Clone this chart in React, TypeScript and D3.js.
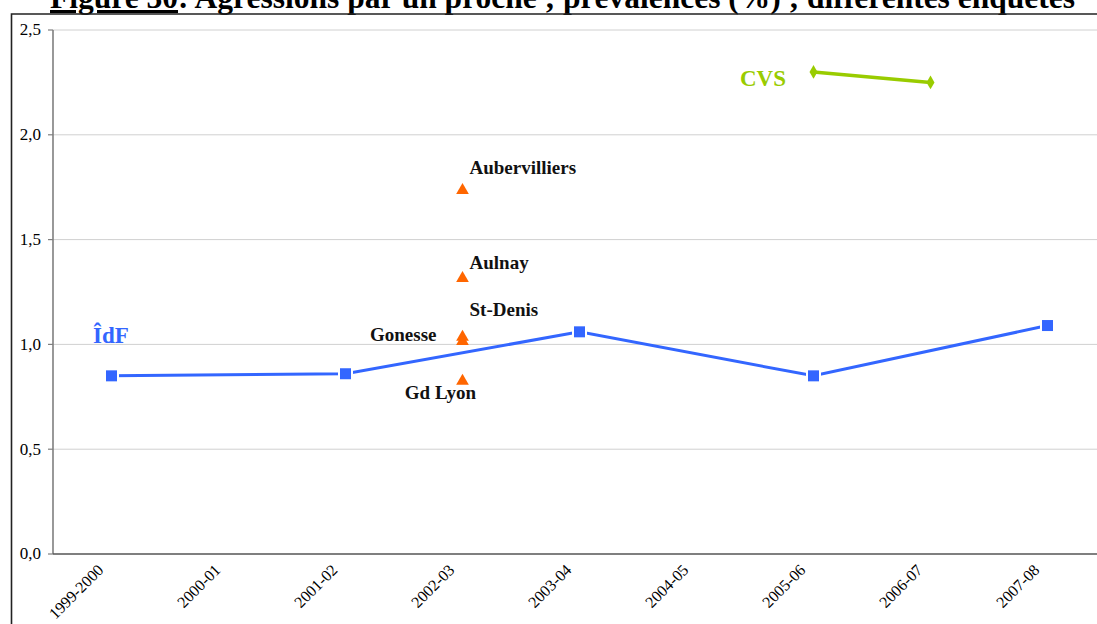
import React from "react";
import * as d3 from "d3";

const categories = ["1999-2000", "2000-01", "2001-02", "2002-03", "2003-04", "2004-05", "2005-06", "2006-07", "2007-08"];
const idfYears = ["1999-2000", "2001-02", "2003-04", "2005-06", "2007-08"];
const idfValues = [0.85, 0.86, 1.06, 0.85, 1.09];
const cvsYears = ["2005-06", "2006-07"];
const cvsValues = [2.3, 2.25];
const localNames = ["Aubervilliers", "Aulnay", "St-Denis", "Gonesse", "Gd Lyon"];
const localValues = [1.74, 1.32, 1.04, 1.02, 0.83];
const localYear = "2002-03";
const yTicks = [0, 0.5, 1, 1.5, 2, 2.5];

const W = 1097, H = 624;
const left = 53, top = 30, bottom = 554;
const serif = "'Liberation Serif', 'Times New Roman', serif";
const BLUE = "#3366FF", ORANGE = "#FF6600", GREEN = "#99CC00";

export default function App() {
  const x = d3.scaleBand().domain(categories).range([left, left + 117 * categories.length]).padding(0);
  const cx = (c: string) => (x(c) as number) + x.bandwidth() / 2;
  const y = d3.scaleLinear().domain([0, 2.5]).range([bottom, top]);
  const fmt = (v: number) => v.toFixed(1).replace(".", ",");

  const idf = idfYears.map((c, i) => [cx(c), y(idfValues[i])] as [number, number]);
  const cvs = cvsYears.map((c, i) => [cx(c), y(cvsValues[i])] as [number, number]);
  const line = d3.line();
  const tri = d3.symbol().type(d3.symbolTriangle).size(70)();
  const diamond = d3.symbol().type(d3.symbolDiamond).size(55)();

  // label offsets relative to the triangle (layout only)
  const labelPos: Record<string, { dx: number; dy: number; anchor: string }> = {
    "Aubervilliers": { dx: 7, dy: -15, anchor: "start" },
    "Aulnay": { dx: 7, dy: -8, anchor: "start" },
    "St-Denis": { dx: 7, dy: -20, anchor: "start" },
    "Gonesse": { dx: -26, dy: 1, anchor: "end" },
    "Gd Lyon": { dx: -22, dy: 19, anchor: "middle" },
  };

  return (
    <svg width={W} height={H} style={{ position: "absolute", left: 0, top: 0, background: "#fff" }}>
      <rect x={0} y={0} width={W} height={H} fill="#fff" />
      {/* title (cropped at the top) */}
      <text x={50} y={8} fontFamily={serif} fontSize={31} fontWeight="bold" fill="#000" textLength={1025} lengthAdjust="spacingAndGlyphs">
        <tspan textDecoration="underline">Figure 30</tspan>
        <tspan>: Agressions par un proche ; prévalences (%) ; différentes enquêtes</tspan>
      </text>
      {/* frame */}
      <path d={`M11.5,${H + 2} V14 H${W + 2}`} fill="none" stroke="#222" strokeWidth={1.6} />

      {/* gridlines */}
      {yTicks.filter((t) => t > 0).map((t) => (
        <line key={t} x1={left} x2={W} y1={y(t)} y2={y(t)} stroke="#d0d0d0" strokeWidth={1} />
      ))}
      {/* y axis */}
      <line x1={left} x2={left} y1={top} y2={bottom} stroke="#7f7f7f" strokeWidth={1.6} />
      {yTicks.map((t) => (
        <g key={t}>
          <line x1={left - 5} x2={left} y1={y(t)} y2={y(t)} stroke="#7f7f7f" strokeWidth={1.2} />
          <text x={41} y={y(t)} dy="0.32em" textAnchor="end" fontFamily={serif} fontSize={17} fill="#000">
            {fmt(t)}
          </text>
        </g>
      ))}
      {/* x axis */}
      <line x1={left} x2={W} y1={bottom} y2={bottom} stroke="#555" strokeWidth={1.6} />
      {categories.map((c) => (
        <text
          key={c}
          transform={`translate(${cx(c) - 7},${bottom + 17}) rotate(-45)`}
          textAnchor="end"
          fontFamily={serif}
          fontSize={16}
          fill="#000"
        >
          {c}
        </text>
      ))}

      {/* IdF series */}
      <path d={line(idf) || ""} fill="none" stroke={BLUE} strokeWidth={3} />
      {idf.map(([px, py], i) => (
        <rect key={i} x={px - 6.5} y={py - 6.5} width={13} height={13} fill={BLUE} stroke="#fff" strokeWidth={2} />
      ))}
      <text x={93} y={343} fontFamily={serif} fontSize={23} fontWeight="bold" fill={BLUE}>ÎdF</text>

      {/* CVS series */}
      <path d={line(cvs) || ""} fill="none" stroke={GREEN} strokeWidth={3.5} />
      {cvs.map(([px, py], i) => (
        <path key={i} d={diamond || ""} transform={`translate(${px},${py})`} fill={GREEN} />
      ))}
      <text x={740} y={86} fontFamily={serif} fontSize={23} fontWeight="bold" fill={GREEN}>CVS</text>

      {/* local surveys */}
      {localNames.map((n, i) => {
        const px = cx(localYear), py = y(localValues[i]);
        const lp = labelPos[n];
        return (
          <g key={n}>
            <path d={tri || ""} transform={`translate(${px},${py + 1})`} fill={ORANGE} />
            <text x={px + lp.dx} y={py + lp.dy} textAnchor={lp.anchor as any} fontFamily={serif} fontSize={19} fontWeight="bold" fill="#111">
              {n}
            </text>
          </g>
        );
      })}
    </svg>
  );
}
